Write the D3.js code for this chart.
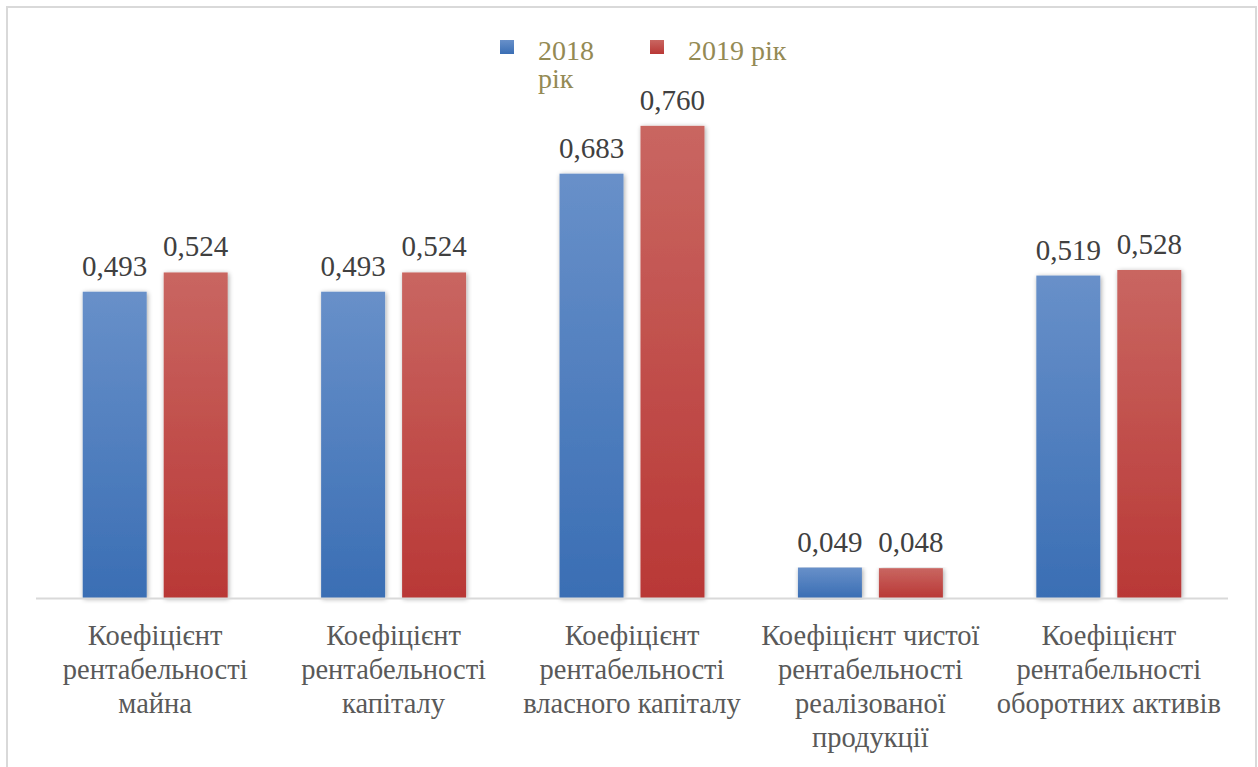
<!DOCTYPE html>
<html>
<head>
<meta charset="utf-8">
<script src="https://cdn.jsdelivr.net/npm/d3@7"></script>
<style>
  html, body { margin: 0; padding: 0; background: #fff; }
  svg { display: block; }
</style>
</head>
<body>
<svg id="chart" width="1258" height="767"></svg>
<script>
// Categories (each label split into lines)
const categories = [
  ["Коефіцієнт", "рентабельності", "майна"],
  ["Коефіцієнт", "рентабельності", "капіталу"],
  ["Коефіцієнт", "рентабельності", "власного капіталу"],
  ["Коефіцієнт чистої", "рентабельності", "реалізованої", "продукції"],
  ["Коефіцієнт", "рентабельності", "оборотних активів"]
];
const legendLines = [["2018", "рік"], ["2019 рік"]];
const values2018 = [0.493, 0.493, 0.683, 0.049, 0.519];
const values2019 = [0.524, 0.524, 0.760, 0.048, 0.528];

const FONT = '"Liberation Serif", "Times New Roman", Times, serif';
const svg = d3.select("#chart");
const defs = svg.append("defs");

const colors = [
  { top: "#6890c9", bottom: "#3a6eb4" },
  { top: "#c96661", bottom: "#b93836" }
];
colors.forEach((c, i) => {
  const g = defs.append("linearGradient")
    .attr("id", "grad" + i).attr("x1", 0).attr("y1", 0).attr("x2", 0).attr("y2", 1);
  g.append("stop").attr("offset", "0%").attr("stop-color", c.top);
  g.append("stop").attr("offset", "100%").attr("stop-color", c.bottom);
});
const shadow = defs.append("filter").attr("id", "shadow")
  .attr("x", "-20%").attr("y", "-5%").attr("width", "140%").attr("height", "110%");
shadow.append("feGaussianBlur").attr("in", "SourceAlpha").attr("stdDeviation", 2.5).attr("result", "b");
shadow.append("feOffset").attr("in", "b").attr("dx", 1).attr("dy", 1).attr("result", "o");
shadow.append("feComponentTransfer").attr("in", "o").attr("result", "s")
  .append("feFuncA").attr("type", "linear").attr("slope", 0.35);
const mrg = shadow.append("feMerge");
mrg.append("feMergeNode").attr("in", "s");
mrg.append("feMergeNode").attr("in", "SourceGraphic");

// Outer frame
svg.append("rect")
  .attr("x", 7).attr("y", 7).attr("width", 1249).attr("height", 780)
  .attr("fill", "#fff").attr("stroke", "#d9d9d9").attr("stroke-width", 2);

const plot = { left: 36, right: 1228, top: 101, bottom: 598 };

const x0 = d3.scaleBand()
  .domain(d3.range(categories.length))
  .range([plot.left, plot.right])
  .paddingInner(0.392).paddingOuter(0.196);
const x1 = d3.scaleBand()
  .domain([0, 1])
  .range([0, x0.bandwidth()])
  .paddingInner(0.21);
const y = d3.scaleLinear().domain([0, 0.8]).range([plot.bottom, plot.top]);

const fmt = v => d3.format(".3f")(v).replace(".", ",");

const data = categories.map((c, i) => ({ i, vals: [values2018[i], values2019[i]] }));

const groups = svg.append("g").selectAll("g").data(data).join("g")
  .attr("transform", d => `translate(${x0(d.i)},0)`);

groups.selectAll("rect").data(d => d.vals.map((v, s) => ({ v, s }))).join("rect")
  .attr("x", d => x1(d.s))
  .attr("y", d => y(d.v))
  .attr("width", x1.bandwidth())
  .attr("height", d => y(0) - y(d.v))
  .attr("fill", d => `url(#grad${d.s})`)
  .attr("filter", "url(#shadow)");

// Baseline
svg.append("line")
  .attr("x1", plot.left).attr("x2", plot.right)
  .attr("y1", y(0) + 0.5).attr("y2", y(0) + 0.5)
  .attr("stroke", "#d9d9d9").attr("stroke-width", 2);

// Value labels
groups.selectAll("text.val").data(d => d.vals.map((v, s) => ({ v, s }))).join("text")
  .attr("class", "val")
  .attr("x", d => x1(d.s) + x1.bandwidth() / 2)
  .attr("y", d => y(d.v) - 16)
  .attr("text-anchor", "middle")
  .style("font-family", FONT)
  .style("font-size", "29px")
  .attr("fill", "#404040")
  .text(d => fmt(d.v));

// Category labels
const cat = svg.append("g").selectAll("text").data(categories).join("text")
  .attr("x", (d, i) => x0(i) + x0.bandwidth() / 2)
  .attr("y", 645)
  .attr("text-anchor", "middle")
  .style("font-family", FONT)
  .style("font-size", "28.5px")
  .attr("fill", "#595959");
cat.selectAll("tspan").data(d => d).join("tspan")
  .attr("x", function () { return d3.select(this.parentNode).attr("x"); })
  .attr("dy", (d, j) => j === 0 ? 0 : 34)
  .text(d => d);

// Legend
const legendX = [500, 650];
const legend = svg.append("g");
legendLines.forEach((lines, s) => {
  legend.append("rect")
    .attr("x", legendX[s]).attr("y", 40).attr("width", 14).attr("height", 14)
    .attr("fill", `url(#grad${s})`);
  const t = legend.append("text")
    .attr("x", legendX[s] + 38).attr("y", 60)
    .style("font-family", FONT)
    .style("font-size", "28px")
    .attr("fill", "#948a54");
  t.selectAll("tspan").data(lines).join("tspan")
    .attr("x", legendX[s] + 38)
    .attr("dy", (d, j) => j === 0 ? 0 : 28)
    .text(d => d);
});
</script>
</body>
</html>
